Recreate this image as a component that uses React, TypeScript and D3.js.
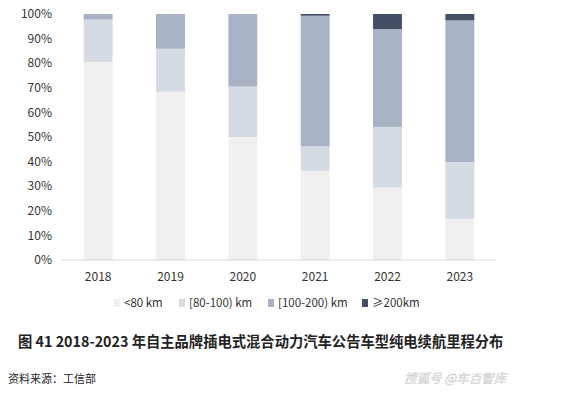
import React from "react";
import * as d3 from "d3";

const years = ["2018", "2019", "2020", "2021", "2022", "2023"];
const seriesNames = ["<80 km", "[80-100) km", "[100-200) km", "≥200km"];
const below80 = [80.5, 68.4, 50.0, 36.3, 29.4, 16.8];
const from80to100 = [17.2, 17.5, 20.5, 9.9, 24.7, 23.0];
const from100to200 = [2.3, 14.1, 29.5, 53.1, 39.8, 57.6];
const above200 = [0, 0, 0, 0.7, 6.1, 2.6];
const yTicks = [0, 10, 20, 30, 40, 50, 60, 70, 80, 90, 100];
const colors = ["#f0f0f0", "#d5dbe3", "#aab3c5", "#444f66"];

const W = 566;
const H = 399;
const margin = { top: 14, right: 70, bottom: 139, left: 62 };
const font = "'Noto Sans CJK SC', 'Noto Sans', sans-serif";

export default function App() {
  const rows = years.map((year, i) => ({
    year,
    s0: below80[i],
    s1: from80to100[i],
    s2: from100to200[i],
    s3: above200[i],
  }));
  const stacked = d3.stack<any>().keys(["s0", "s1", "s2", "s3"])(rows);

  const x = d3
    .scaleBand()
    .domain(years)
    .range([margin.left, W - margin.right])
    .paddingInner(0.6)
    .paddingOuter(0.3);
  const y = d3
    .scaleLinear()
    .domain([0, 100])
    .range([H - margin.bottom, margin.top]);

  const legendX = [114, 179, 268, 362];

  return (
    <svg
      width={W}
      height={H}
      style={{ position: "absolute", left: 0, top: 0, background: "#fff" }}
      fontFamily={font}
    >
      {yTicks.map((t) => (
        <text key={t} x={52} y={y(t)} dy="0.35em" textAnchor="end" fontSize={12} fill="#333">
          {t}%
        </text>
      ))}
      {stacked.map((layer, k) => (
        <g key={k} fill={colors[k]}>
          {layer.map((d, i) => (
            <rect
              key={i}
              x={x(years[i])}
              y={y(d[1])}
              width={x.bandwidth()}
              height={Math.max(0, y(d[0]) - y(d[1]))}
            />
          ))}
        </g>
      ))}
      <line
        x1={margin.left}
        x2={W - margin.right}
        y1={y(0)}
        y2={y(0)}
        stroke="#d9d9d9"
        strokeWidth={1}
      />
      {years.map((yr) => (
        <text
          key={yr}
          x={(x(yr) as number) + x.bandwidth() / 2}
          y={281}
          textAnchor="middle"
          fontSize={12}
          fill="#333"
        >
          {yr}
        </text>
      ))}
      {seriesNames.map((name, i) => (
        <g key={name}>
          <rect x={legendX[i]} y={299} width={6} height={8} fill={colors[i]} />
          <text x={legendX[i] + 10} y={303} dy="0.35em" fontSize={11.5} fill="#333">
            {name}
          </text>
        </g>
      ))}
      <text x={18} y={342} dy="0.35em" fontSize={14.3} fontWeight="bold" fill="#222">
        图 41 2018-2023 年自主品牌插电式混合动力汽车公告车型纯电续航里程分布
      </text>
      <text x={8} y={379} dy="0.35em" fontSize={11} fill="#222">
        资料来源：工信部
      </text>
      <text
        x={404}
        y={379}
        dy="0.35em"
        fontSize={12.5}
        fill="#f2f2f2"
        stroke="#c8c8c8"
        strokeWidth={0.4}
        fontStyle="italic"
      >
        搜狐号 @车百智库
      </text>
    </svg>
  );
}
